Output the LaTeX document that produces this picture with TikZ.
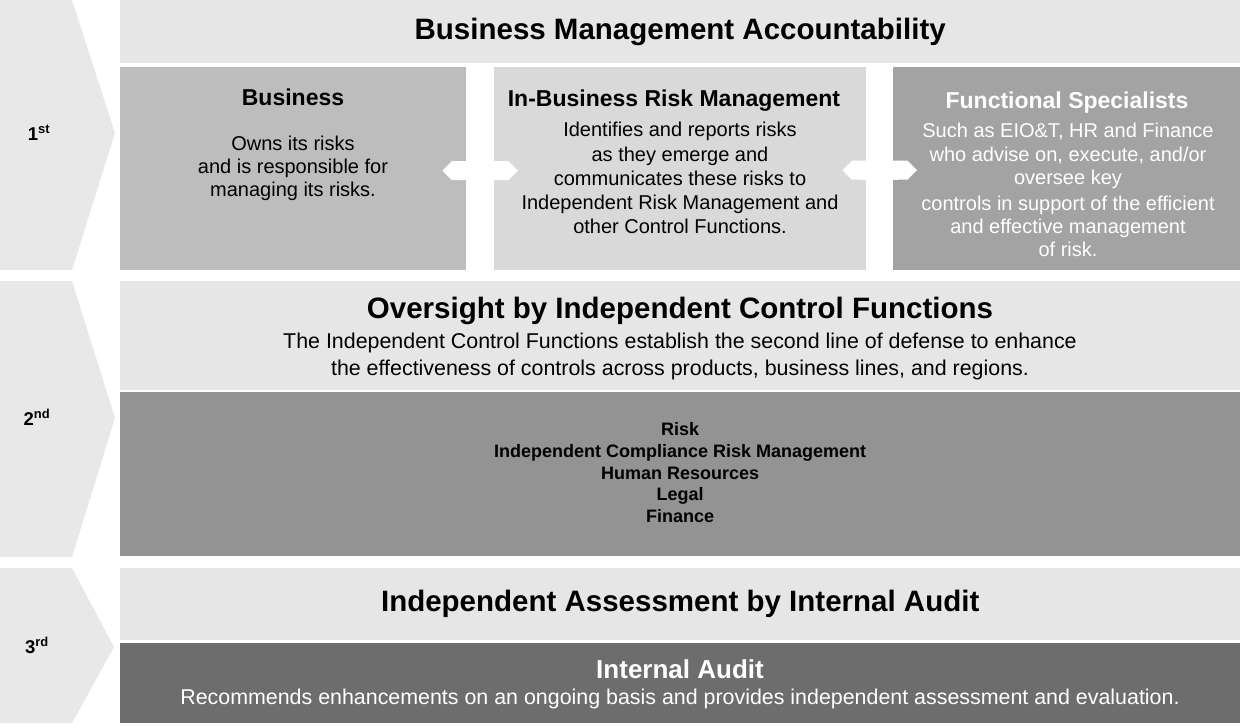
\documentclass[tikz,border=0pt]{standalone}
\usepackage{fontspec}
\setmainfont{Liberation Sans}
\usetikzlibrary{positioning,arrows.meta}

\definecolor{chevgray}{HTML}{E8E8E8}
\definecolor{bandgray}{HTML}{E6E6E6}
\definecolor{bizgray}{HTML}{BDBDBD}
\definecolor{ibrmgray}{HTML}{D9D9D9}
\definecolor{fsgray}{HTML}{A3A3A3}
\definecolor{icfgray}{HTML}{939393}
\definecolor{auditgray}{HTML}{6D6D6D}

\begin{document}
\begin{tikzpicture}[x=1pt,y=-1pt
        ,chev/.style = {fill=chevgray}
        ,band/.style = {fill=bandgray, inner sep=0pt, anchor=north west, minimum width=1120pt}
        ,box/.style = {inner sep=0pt, anchor=north west, minimum height=203pt}
        ,title/.style = {font=\bfseries\fontsize{29.5}{34}\selectfont}
        ,boxhead/.style = {anchor=base, inner sep=0pt, font=\bfseries\fontsize{23}{27}\selectfont}
        ,boxtext/.style = {anchor=base, inner sep=0pt, align=center, font=\fontsize{20}{23.3}\selectfont}
        ,listtext/.style = {align=center, inner sep=0pt, font=\bfseries\fontsize{18}{21.7}\selectfont}
        ,ordinal/.style = {anchor=base, inner sep=0pt, font=\bfseries\fontsize{18.5}{22}\selectfont}
        ,link/.style = {draw=white, line width=19pt, {Triangle Cap[]}-{Triangle Cap[]}, shorten <=-24pt, shorten >=-24pt}
      ]
      \useasboundingbox (0,0) rectangle (1242,728);

      % lines of defense
      \fill[chev] (0,0) -- (72,0) -- (115,133) -- (72,270) -- (0,270) -- cycle;
      \fill[chev] (0,281) -- (72,281) -- (115,418) -- (72,557) -- (0,557) -- cycle;
      \fill[chev] (0,568) -- (72,568) -- (114,647) -- (72,723) -- (0,723) -- cycle;
      \node[ordinal] (first) at (39,140) {1\textsuperscript{st}};
      \node[ordinal] (second) at (37,425) {2\textsuperscript{nd}};
      \node[ordinal] (third) at (37,653) {3\textsuperscript{rd}};

      % first line
      \node[band, minimum height=63pt, title] (bma) at (120,0) {Business Management Accountability};
      \node[box, fill=bizgray, minimum width=346pt] (biz) at (120,67) {};
      \node[box, fill=ibrmgray, minimum width=372pt] (ibrm) at (494,67) {};
      \node[box, fill=fsgray, minimum width=347pt] (fs) at (893,67) {};
      \draw[link] ([yshift=-2pt]biz.east) -- ([yshift=-2pt]ibrm.west);
      \draw[link] ([yshift=-1.5pt]ibrm.east) -- ([yshift=-1.5pt]fs.west);

      % base of a text block is the base of its last line
      \node[boxhead] (bizhead) at (293,105) {Business};
      \node[boxtext] (biztext) at (293,196.7) {Owns its risks\\and is responsible for\\managing its risks.};
      \node[boxhead] (ibrmhead) at (674,106.7) {In-Business Risk Management};
      \node[boxtext, font=\fontsize{20}{24.1}\selectfont] (ibrmtext) at (680,233.3) {Identifies and reports risks\\as they emerge and\\communicates these risks to\\Independent Risk Management and\\other Control Functions.};
      \node[boxhead, text=white] (fshead) at (1067,108.3) {Functional Specialists};
      \node[boxtext, text=white] (fstext) at (1068,256.7) {Such as EIO\&T, HR and Finance\\who advise on, execute, and/or\\oversee key\\[2.5pt]controls in support of the efficient\\and effective management\\of risk.};

      % second line
      \node[band, minimum height=109pt] (icf) at (120,281) {};
      \node[title, anchor=base, inner sep=0pt] (icfhead) at (680,318.3) {Oversight by Independent Control Functions};
      \node[boxtext, font=\fontsize{21.4}{26.7}\selectfont] (icftext) at (680,375) {The Independent Control Functions establish the second line of defense to enhance\\the effectiveness of controls across products, business lines, and regions.};
      \node[band, fill=icfgray, minimum height=164pt] (icflist) at (120,392) {};
      \node[listtext] (icfnames) at ([yshift=1.5pt]icflist.center) {Risk\\Independent Compliance Risk Management\\Human Resources\\Legal\\Finance};

      % third line
      \node[band, minimum height=72pt, title] (iaa) at (120,568) {Independent Assessment by Internal Audit};
      \node[band, fill=auditgray, minimum height=80pt] (ia) at (120,643) {};
      \node[boxhead, text=white, font=\bfseries\fontsize{26}{30}\selectfont] (iahead) at (680,678) {Internal Audit};
      \node[boxtext, text=white, font=\fontsize{21.4}{24}\selectfont] (iatext) at (680,704) {Recommends enhancements on an ongoing basis and provides independent assessment and evaluation.};
    \end{tikzpicture}
\end{document}
